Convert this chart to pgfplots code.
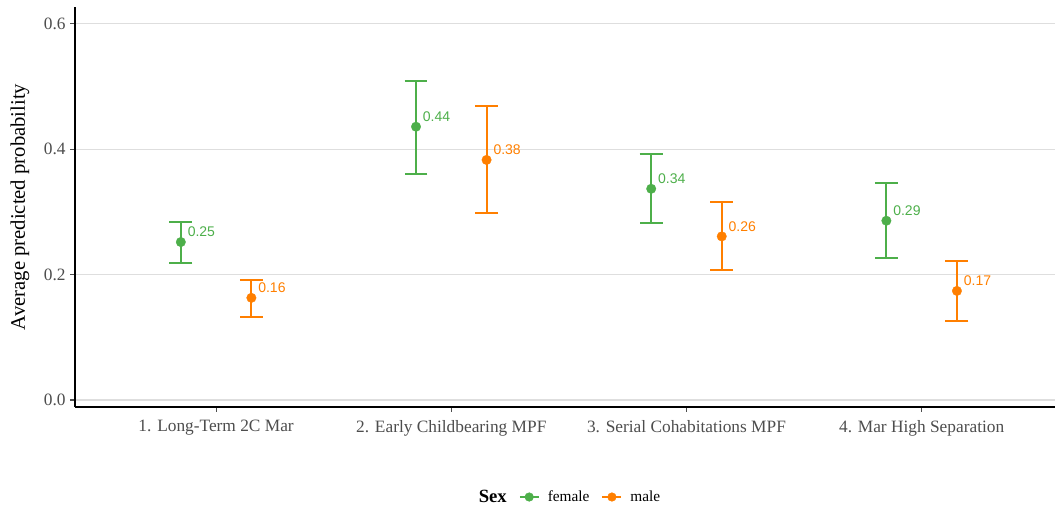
\documentclass[border=0pt]{standalone}
\usepackage{pgfplots}
\pgfplotsset{compat=1.18}
\usepackage{pgfplotstable}
\usepackage{fontspec}
\setmainfont{Liberation Serif}
\newfontfamily\lsans{Liberation Sans}
\definecolor{fgreen}{HTML}{4DAF4A}
\definecolor{morange}{HTML}{FF7F00}
\definecolor{tickgray}{HTML}{4D4D4D}
\definecolor{gridgray}{HTML}{DEDEDE}

\pgfplotstableread{
x y lo hi lab
0.85 0.252 0.219 0.284 0.25
1.85 0.436 0.361 0.509 0.44
2.85 0.337 0.282 0.393 0.34
3.85 0.286 0.227 0.346 0.29
}\femaletab

\pgfplotstableread{
x y lo hi lab
1.15 0.163 0.132 0.191 0.16
2.15 0.383 0.298 0.469 0.38
3.15 0.261 0.207 0.316 0.26
4.15 0.174 0.126 0.222 0.17
}\maletab

\begin{document}
\begin{tikzpicture}
\useasboundingbox (-56.25pt,-78.75pt) rectangle (735pt,305.25pt);
\begin{axis}[
  at={(0pt,0pt)}, anchor=south west,
  scale only axis, width=735pt, height=300pt,
  xmin=0.4, xmax=4.567, ymin=-0.0112, ymax=0.627,
  axis x line*=bottom, axis y line*=left,
  x axis line style={-}, y axis line style={-},
  axis line style={black, line width=1.1pt},
  ytick={0,0.2,0.4,0.6},
  yticklabel style={/pgf/number format/.cd, fixed, fixed zerofill, precision=1},
  /pgf/number format/assume math mode=true,
  xtick={1,2,3,4},
  xticklabels={1. Long-Term 2C Mar, 2. Early Childbearing MPF, 3. Serial Cohabitations MPF, 4. Mar High Separation},
  xticklabel style={yshift=-3pt},
  ymajorgrids,
  grid style={gridgray, line width=0.8pt},
  tick align=outside,
  major tick length=3.5pt,
  tick style={tickgray, line width=0.8pt},
  tick label style={tickgray, font=\fontsize{13}{15}\selectfont},
  ylabel={Average predicted probability},
  ylabel style={at={(axis description cs:-0.0561,0.5)}, anchor=center, rotate=0, font=\fontsize{15.5}{17}\selectfont, black},
  legend columns=3,
  legend cell align=left,
  legend style={at={(axis description cs:0.5046,-0.225)}, anchor=center, draw=none, fill=none,
    font=\fontsize{11.5}{13}\selectfont, text=black,
    /tikz/every even column/.append style={column sep=7pt}},
  clip=false,
]
\addlegendimage{empty legend}
\addlegendentry{\fontsize{14}{16}\selectfont\bfseries Sex}
\addlegendimage{legend image code/.code={\draw[fgreen, line width=1.5pt] (0pt,0pt) -- (14.25pt,0pt); \fill[fgreen] (7.1pt,0pt) circle (3.2pt);}}
\addlegendentry{\hspace{4pt}female}
\addlegendimage{legend image code/.code={\draw[morange, line width=1.5pt] (0pt,0pt) -- (14.25pt,0pt); \fill[morange] (7.1pt,0pt) circle (3.2pt);}}
\addlegendentry{\hspace{4pt}male}

\addplot[forget plot, only marks, color=fgreen, mark=*, mark size=3.6pt, mark options={fill=fgreen, draw=fgreen, line width=0.2pt},
  error bars/.cd, y dir=both, y explicit, error mark=|,
  error bar style={line width=1.5pt, fgreen},
  error mark options={line width=1.5pt, mark size=8.6pt, fgreen}]
  table[x=x, y=y, y error plus expr=\thisrow{hi}-\thisrow{y}, y error minus expr=\thisrow{y}-\thisrow{lo}] {\femaletab};
\addplot[forget plot, only marks, color=morange, mark=*, mark size=3.6pt, mark options={fill=morange, draw=morange, line width=0.2pt},
  error bars/.cd, y dir=both, y explicit, error mark=|,
  error bar style={line width=1.5pt, morange},
  error mark options={line width=1.5pt, mark size=8.6pt, morange}]
  table[x=x, y=y, y error plus expr=\thisrow{hi}-\thisrow{y}, y error minus expr=\thisrow{y}-\thisrow{lo}] {\maletab};

\addplot[forget plot, only marks, mark=none, point meta=explicit symbolic,
  nodes near coords, nodes near coords style={font=\lsans\fontsize{10.5}{12}\selectfont, text=fgreen, anchor=west, inner sep=0pt, xshift=5pt, yshift=7.5pt}]
  table[x=x, y=y, meta=lab] {\femaletab};
\addplot[forget plot, only marks, mark=none, point meta=explicit symbolic,
  nodes near coords, nodes near coords style={font=\lsans\fontsize{10.5}{12}\selectfont, text=morange, anchor=west, inner sep=0pt, xshift=5pt, yshift=7.5pt}]
  table[x=x, y=y, meta=lab] {\maletab};
\end{axis}
\end{tikzpicture}
\end{document}
